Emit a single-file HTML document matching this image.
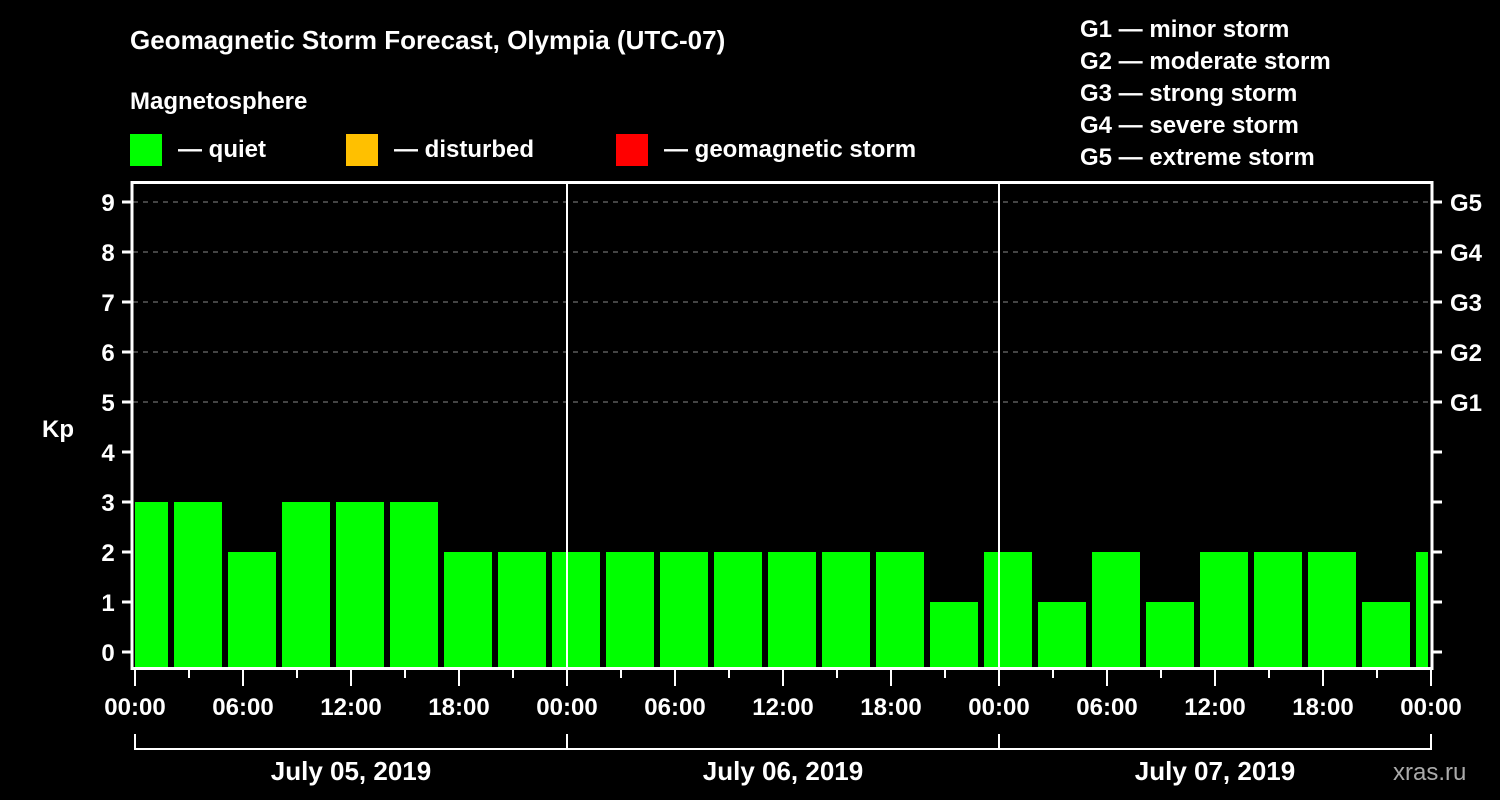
<!DOCTYPE html>
<html><head><meta charset="utf-8"><style>
body{margin:0;background:#000;width:1500px;height:800px;overflow:hidden}
svg{display:block}
text{font-family:"Liberation Sans",Arial,sans-serif;font-weight:bold;fill:#fff}
</style></head><body>
<svg id="chart" width="1500" height="800">
<text x="130" y="49" font-size="26">Geomagnetic Storm Forecast, Olympia (UTC-07)</text>
<text x="130" y="109" font-size="24">Magnetosphere</text>
<g><rect x="130" y="134" width="32" height="32" fill="#00ff00"/><text x="178" y="157" font-size="24">— quiet</text></g>
<g><rect x="346" y="134" width="32" height="32" fill="#ffc000"/><text x="394" y="157" font-size="24">— disturbed</text></g>
<g><rect x="616" y="134" width="32" height="32" fill="#ff0000"/><text x="664" y="157" font-size="24">— geomagnetic storm</text></g>
<g font-size="24">
<text x="1080" y="37">G1 — minor storm</text><text x="1080" y="69">G2 — moderate storm</text><text x="1080" y="101">G3 — strong storm</text><text x="1080" y="133">G4 — severe storm</text><text x="1080" y="165">G5 — extreme storm</text>
</g>
<text x="42" y="437" font-size="24">Kp</text>
<g id="grid"></g><g id="bars"></g><g id="axes"></g>
<text x="1393" y="780" font-size="24" fill="#aaa" style="fill:#aaa;font-weight:normal">xras.ru</text>
</svg>
<script>
const slotStarts=[-1,2,5,8,11,14,17,20,23,26,29,32,35,38,41,44,47,50,53,56,59,62,65,68,71];
const kpValues=[3,3,2,3,3,3,2,2,2,2,2,2,2,2,2,1,2,1,2,1,2,2,2,1,2];
const yTicks=[0,1,2,3,4,5,6,7,8,9];
const gLabels=["G1","G2","G3","G4","G5"];
const xTickLabels=["00:00","06:00","12:00","18:00","00:00","06:00","12:00","18:00","00:00","06:00","12:00","18:00","00:00"];
const dayLabels=["July 05, 2019","July 06, 2019","July 07, 2019"];
const NS="http://www.w3.org/2000/svg";
const X0=135,PXH=18,HMAX=72;
const x=h=>X0+Math.max(0,Math.min(HMAX,h))*PXH;
const y=v=>652-50*v;
function mk(p,tag,at,txt){const e=document.createElementNS(NS,tag);for(const k in at)e.setAttribute(k,at[k]);if(txt!=null)e.textContent=txt;document.getElementById(p).appendChild(e);return e;}
// grid
for(let i=0;i<gLabels.length;i++){
 const g=mk('grid','line',{x1:133,x2:1430,y1:y(5+i),y2:y(5+i),stroke:'#888','stroke-width':1,'stroke-dasharray':'5,5'});
 
 
}
// bars
slotStarts.forEach((s,i)=>{
 const v=kpValues[i];
 const x1=x(s)+(s<0?0:3), x2=x(s+3)-3;
 const col=v>=5?'#ff0000':(v>=4?'#ffc000':'#00ff00');
 const r=mk('bars','rect',{x:x1,y:y(v),width:x2-x1,height:668-y(v),fill:col});
 
 
});
// axes
const A={stroke:'#fff','stroke-width':3};
mk('axes','line',{x1:132,x2:132,y1:181,y2:670,...A});
mk('axes','line',{x1:1432,x2:1432,y1:181,y2:670,...A});
mk('axes','line',{x1:131,x2:1433,y1:182.5,y2:182.5,...A});
mk('axes','line',{x1:131,x2:1433,y1:668.5,y2:668.5,...A});
[24,48].forEach(h=>mk('axes','line',{x1:x(h),x2:x(h),y1:182,y2:668,stroke:'#fff','stroke-width':2}));
yTicks.forEach(v=>{
 mk('axes','line',{x1:122,x2:132,y1:y(v),y2:y(v),...A});
 mk('axes','line',{x1:1432,x2:1442,y1:y(v),y2:y(v),...A});
 const t=mk('axes','text',{x:108,y:y(v)+9,'font-size':24,'text-anchor':'middle'},String(v));
 
 
});
gLabels.forEach((g,i)=>{
 const t=mk('axes','text',{x:1450,y:y(5+i)+9,'font-size':24},g);
 
 
});
for(let h=0;h<=HMAX;h+=3){
 const major=h%6===0;
 mk('axes','line',{x1:x(h),x2:x(h),y1:669,y2:major?686:678,stroke:'#fff','stroke-width':2});
}
xTickLabels.forEach((l,i)=>{
 const t=mk('axes','text',{x:x(i*6),y:715,'font-size':24,'text-anchor':'middle'},l);
 
 
});
mk('axes','line',{x1:x(0)-1,x2:x(72)+1,y1:749,y2:749,stroke:'#fff','stroke-width':2});
[0,24,48,72].forEach(h=>mk('axes','line',{x1:x(h),x2:x(h),y1:734,y2:749,stroke:'#fff','stroke-width':2}));
dayLabels.forEach((d,i)=>{
 const t=mk('axes','text',{x:x(i*24+12),y:780,'font-size':26,'text-anchor':'middle'},d);
 
 
});
</script>
</body></html>
